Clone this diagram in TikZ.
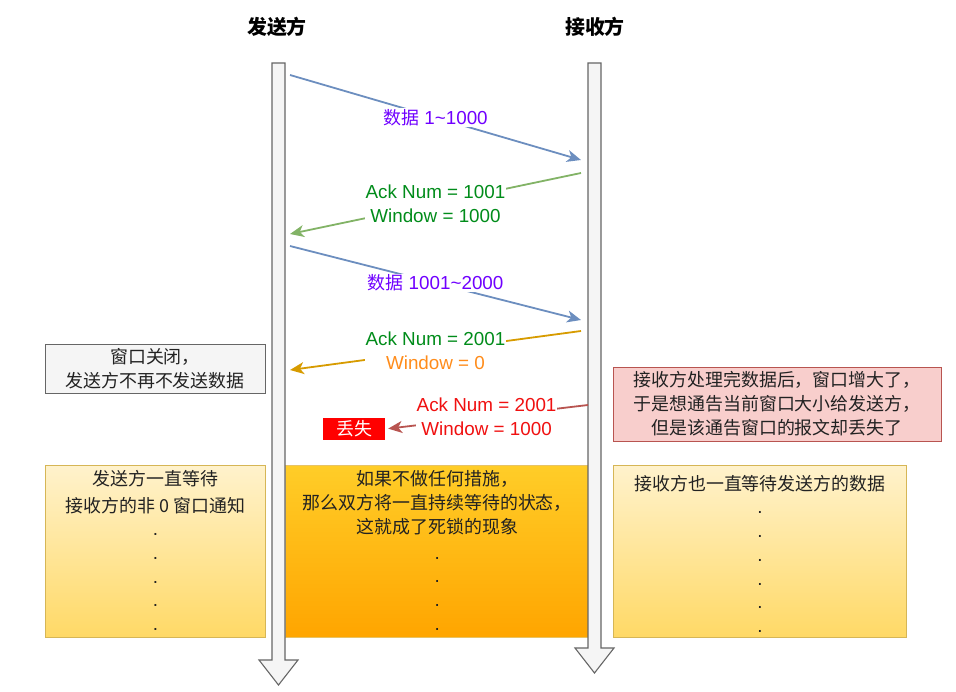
\documentclass[tikz,border=0pt]{standalone}
\usepackage{fontspec}
\setmainfont{Liberation Sans}[Scale=1.05]
\newfontfamily\cjk{Noto Sans CJK SC}
\usetikzlibrary{arrows.meta, positioning}
\definecolor{lifefill}{HTML}{F5F5F5}
\definecolor{lifedraw}{HTML}{666666}
\definecolor{datablue}{HTML}{6C8EBF}
\definecolor{datatxt}{HTML}{7000FF}
\definecolor{ackgreen}{HTML}{82B366}
\definecolor{acktxt}{HTML}{008C1A}
\definecolor{zeroline}{HTML}{D79B00}
\definecolor{zerotxt}{HTML}{FF8C1A}
\definecolor{lostline}{HTML}{B85450}
\definecolor{losttxt}{HTML}{F01010}
\definecolor{pinkfill}{HTML}{F8CECC}
\definecolor{waittop}{HTML}{FFF2CC}
\definecolor{waitbot}{HTML}{FFD966}
\definecolor{waitdraw}{HTML}{D6B656}
\definecolor{locktop}{HTML}{FFCD28}
\definecolor{lockbot}{HTML}{FFA500}
\definecolor{notetxt}{HTML}{222222}

\begin{document}
\begin{tikzpicture}[x=1bp, y=-1bp, >={Stealth[length=14bp, width=12bp, inset=4bp]},
  every node/.style={font=\fontsize{18}{24}\selectfont, align=center, inner sep=1bp, text=notetxt},
  head/.style={font=\cjk\bfseries\fontsize{20}{24}\selectfont, text=black},
  lifeline/.style={fill=lifefill, draw=lifedraw, line width=1.1bp},
  msg/.style={->, line width=1.8bp},
  lbl/.style={fill=white},
  graybox/.style={draw=lifedraw, fill=lifefill, line width=0.8bp, minimum width=220bp, minimum height=49bp},
  pinkbox/.style={draw=lostline, fill=pinkfill, line width=0.8bp, minimum width=328bp, minimum height=74bp},
  waitbox/.style={draw=waitdraw, line width=0.8bp, top color=waittop, bottom color=waitbot, minimum height=172bp, anchor=north west},
  lockbox/.style={draw=zeroline!60, line width=0.6bp, top color=locktop, bottom color=lockbot, minimum height=172bp, anchor=north west}]
\useasboundingbox (0,0) rectangle (956,692);

\node[head] (snd) at (277,27) {发送方};
\node[head] (rcv) at (595,27) {接收方};

\node[waitbox, minimum width=220bp] (swait) at (45,465) {};
\node[lockbox, minimum width=304bp] (lock) at (285,465) {};
\node[waitbox, minimum width=293bp] (rwait) at (613,465) {};

\node[below=4bp of swait.north] {{\cjk 发送方一直等待}\\[3bp]{\cjk 接收方的非 0 窗口通知}\\[-1bp].\\.\\.\\.\\.};
\node[below=4bp of lock.north] {{\cjk 如果不做任何措施，}\\{\cjk 那么双方将一直持续等待的状态，}\\{\cjk 这就成了死锁的现象}\\[2bp].\\.\\.\\.};
\node[below=9bp of rwait.north] {{\cjk 接收方也一直等待发送方的数据}\\[-1bp].\\.\\.\\.\\.\\.};

\draw[lifeline] (272,63) -- (285,63) -- (285,660) -- (298,660) -- (278.5,685) -- (259,660) -- (272,660) -- cycle;
\draw[lifeline] (588,63) -- (601,63) -- (601,648) -- (614,648) -- (594.5,673) -- (575,648) -- (588,648) -- cycle;

\node[graybox] (closed) at (155,368.5) {{\cjk 窗口关闭，}\\{\cjk 发送方不再不发送数据}};
\node[pinkbox] (inc) at (777,404) {{\cjk 接收方处理完数据后，窗口增大了，}\\{\cjk 于是想通告当前窗口大小给发送方，}\\{\cjk 但是该通告窗口的报文却丢失了}};
\node[fill=red, text=white, minimum width=62bp, minimum height=22bp] (lost) at (354,429) {\cjk 丢失};

\coordinate (s1) at (290,75);  \coordinate (r1) at (581,160);
\coordinate (r2) at (581,173); \coordinate (s2) at (290,234);
\coordinate (s3) at (290,246); \coordinate (r3) at (581,320);
\coordinate (r4) at (581,331); \coordinate (s4) at (290,370);
\coordinate (r5) at (588,405);

\draw[msg, datablue] (s1) -- node[lbl, text=datatxt] {{\cjk 数据} 1\textasciitilde 1000} (r1);
\draw[msg, ackgreen] (r2) -- node[lbl, text=acktxt] {Ack Num = 1001\\Window = 1000} (s2);
\draw[msg, datablue] (s3) -- node[lbl, text=datatxt] {{\cjk 数据} 1001\textasciitilde 2000} (r3);
\draw[msg, zeroline] (r4) -- node[lbl, text=acktxt] {Ack Num = 2001\\\textcolor{zerotxt}{Window = 0}} (s4);
\draw[msg, lostline, shorten >=3bp] (r5) -- node[lbl, text=losttxt] {Ack Num = 2001\\Window = 1000} (lost.east);
\end{tikzpicture}
\end{document}
